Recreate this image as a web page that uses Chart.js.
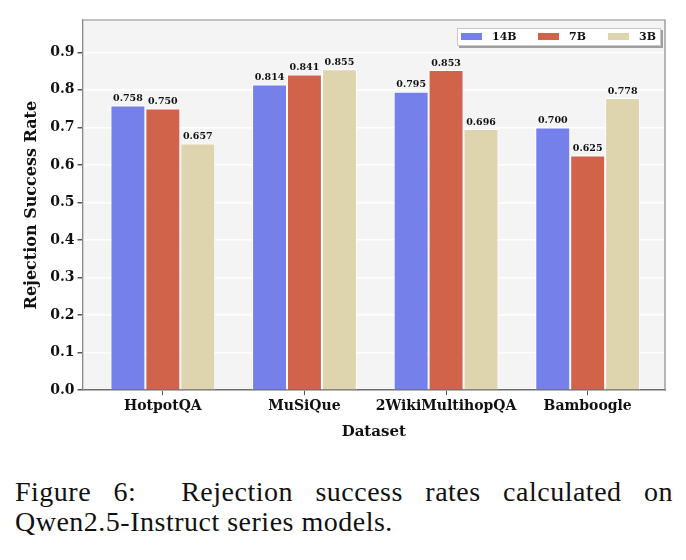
<!DOCTYPE html>
<html lang="en">
<head>
<meta charset="UTF-8">
<title>Rejection success rates</title>
<script src="https://cdn.jsdelivr.net/npm/chart.js"></script>
<style>
    body {
        margin: 0;
        padding: 0;
        background: #ffffff;
        width: 686px;
        height: 560px;
        position: relative;
        overflow: hidden;
    }
    .chart-box {
        position: absolute;
        left: 0;
        top: 0;
        width: 686px;
        height: 452px;
    }
    .caption {
        position: absolute;
        left: 15px;
        top: 477px;
        width: 658px;
        font-family: "Liberation Serif", serif;
        font-size: 28px;
        letter-spacing: 0.5px;
        line-height: 30px;
        color: #111;
    }
    .caption .l1 {
        text-align: justify;
        text-align-last: justify;
    }
</style>
</head>
<body>
<div class="chart-box"><canvas id="rejChart"></canvas></div>
<div class="caption">
    <div class="l1">Figure 6:&nbsp; Rejection success rates calculated on</div>
    <div>Qwen2.5-Instruct series models.</div>
</div>

<script>
    // data
    const datasetNames = ['HotpotQA', 'MuSiQue', '2WikiMultihopQA', 'Bamboogle'];
    const models = ['14B', '7B', '3B'];
    const rate14B = [0.758, 0.814, 0.795, 0.700];
    const rate7B = [0.750, 0.841, 0.853, 0.625];
    const rate3B = [0.657, 0.855, 0.696, 0.778];
    const yTicks = [0.0, 0.1, 0.2, 0.3, 0.4, 0.5, 0.6, 0.7, 0.8, 0.9];

    const colors = ['#7580eb', '#d1634a', '#ded4ae'];
    const serif = '"DejaVu Serif", serif';

    function toPoints(arr) {
        return arr.map((v, i) => ({ x: i, y: v }));
    }

    const seriesValues = [rate14B, rate7B, rate3B];

    // plot background, frame, value labels and the boxed legend
    const decor = {
        id: 'decor',
        beforeDraw(chart) {
            const { ctx, chartArea: a } = chart;
            ctx.save();
            ctx.fillStyle = '#f4f4f4';
            ctx.fillRect(a.left, a.top, a.right - a.left, a.bottom - a.top);
            ctx.restore();
        },
        afterDatasetsDraw(chart) {
            const { ctx, chartArea: a } = chart;
            ctx.save();
            // frame (top / right / left)
            ctx.strokeStyle = '#8a8a8a';
            ctx.lineWidth = 1.2;
            ctx.beginPath();
            ctx.moveTo(a.left, a.bottom);
            ctx.lineTo(a.left, a.top);
            ctx.lineTo(a.right, a.top);
            ctx.lineTo(a.right, a.bottom);
            ctx.stroke();

            // value labels
            ctx.fillStyle = '#111';
            ctx.font = 'bold 9.5px ' + serif;
            ctx.textAlign = 'center';
            ctx.textBaseline = 'bottom';
            chart.data.datasets.forEach((ds, di) => {
                const meta = chart.getDatasetMeta(di);
                meta.data.forEach((bar, i) => {
                    ctx.fillText(seriesValues[di][i].toFixed(3), bar.x, bar.y - 2);
                });
            });

            // legend box
            const lx = 457, ly = 28, lw = 204, lh = 18;
            ctx.fillStyle = 'rgba(0,0,0,0.35)';
            ctx.fillRect(lx + 2, ly + 2, lw, lh);
            ctx.fillStyle = '#ffffff';
            ctx.fillRect(lx, ly, lw, lh);
            ctx.strokeStyle = '#c8c8c8';
            ctx.lineWidth = 1;
            ctx.strokeRect(lx + 0.5, ly + 0.5, lw - 1, lh - 1);

            const patchX = [461, 538, 608];
            ctx.font = 'bold 11px ' + serif;
            ctx.textAlign = 'left';
            ctx.textBaseline = 'middle';
            chart.data.datasets.forEach((ds, di) => {
                ctx.fillStyle = ds.backgroundColor;
                ctx.fillRect(patchX[di], ly + 5, 21, 7);
                ctx.fillStyle = '#111';
                ctx.fillText(ds.label, patchX[di] + 31, ly + 9);
            });
            ctx.restore();
        }
    };

    const ctx = document.getElementById('rejChart').getContext('2d');
    new Chart(ctx, {
        type: 'bar',
        data: {
            datasets: models.map((m, i) => ({
                label: m,
                data: toPoints(seriesValues[i]),
                backgroundColor: colors[i],
                borderColor: '#ffffff',
                borderWidth: 1,
                categoryPercentage: 0.74,
                barPercentage: 1.0
            }))
        },
        options: {
            responsive: true,
            maintainAspectRatio: false,
            animation: false,
            layout: { padding: { top: 20, right: 21, bottom: 11, left: 22 } },
            plugins: {
                legend: { display: false },
                tooltip: { enabled: false }
            },
            scales: {
                x: {
                    type: 'linear',
                    offset: false,
                    min: -0.567,
                    max: 3.546,
                    afterBuildTicks(axis) {
                        axis.ticks = datasetNames.map((n, i) => ({ value: i }));
                    },
                    ticks: {
                        autoSkip: false,
                        maxRotation: 0,
                        color: '#111',
                        padding: 3,
                        font: { family: serif, size: 14, weight: 'bold' },
                        callback: (v) => datasetNames[v]
                    },
                    grid: {
                        offset: false,
                        drawOnChartArea: false,
                        drawTicks: true,
                        tickLength: 5,
                        color: '#555'
                    },
                    border: { display: true, color: '#6e6e6e', width: 1.5 },
                    title: {
                        display: true,
                        text: 'Dataset',
                        color: '#111',
                        padding: { top: 5, bottom: 0 },
                        font: { family: serif, size: 15, weight: 'bold' }
                    }
                },
                y: {
                    min: 0,
                    max: 0.986,
                    afterBuildTicks(axis) {
                        axis.ticks = yTicks.map(v => ({ value: v }));
                    },
                    ticks: {
                        color: '#111',
                        padding: 3,
                        font: { family: serif, size: 14, weight: 'bold' },
                        callback: (v) => v.toFixed(1)
                    },
                    grid: {
                        color: '#ffffff',
                        lineWidth: 1.5,
                        tickLength: 5,
                        tickColor: '#555',
                        drawTicks: true
                    },
                    border: { display: true, color: '#8a8a8a', width: 1.2 },
                    title: {
                        display: true,
                        text: 'Rejection Success Rate',
                        color: '#111',
                        padding: { top: 0, bottom: 6 },
                        font: { family: serif, size: 16, weight: 'bold' }
                    }
                }
            }
        },
        plugins: [decor]
    });
</script>
</body>
</html>
